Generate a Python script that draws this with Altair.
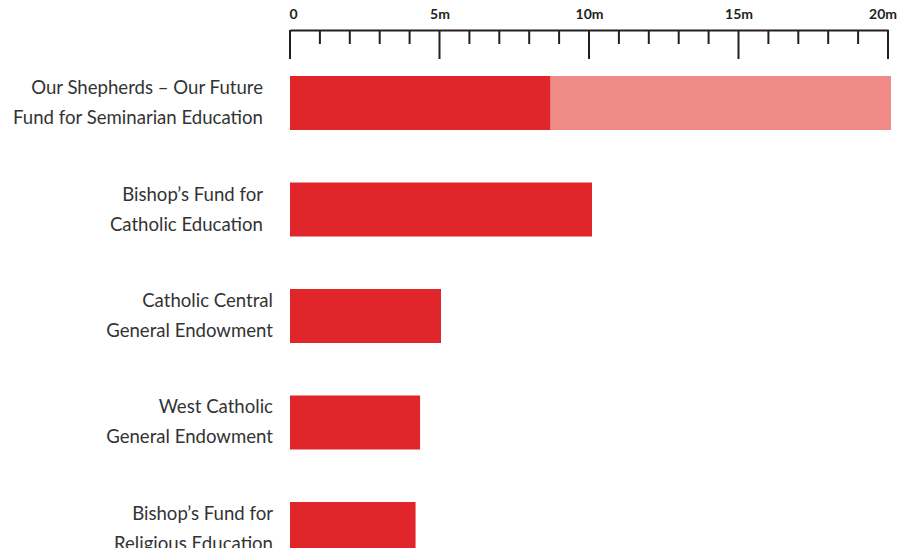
import altair as alt
import pandas as pd

categories = [
    "Our Shepherds – Our Future\nFund for Seminarian Education",
    "Bishop’s Fund for\nCatholic Education",
    "Catholic Central\nGeneral Endowment",
    "West Catholic\nGeneral Endowment",
    "Bishop’s Fund for\nReligious Education",
]
raised = [8.7, 10.1, 5.05, 4.35, 4.2]
goal = [20.1, None, None, None, None]
tick_values = list(range(0, 21))
major_values = [0, 5, 10, 15, 20]

RED = "#E0262A"
LIGHT = "#F08A86"
INK = "#231F20"
FONT = "Lato"

df = pd.DataFrame({"fund": categories, "raised": raised, "goal": goal})
ticks_df = pd.DataFrame({"v": [t for t in tick_values if t % 5 != 0]})
major_df = pd.DataFrame({"v": major_values})

yscale = alt.Scale(domain=categories, range=[0, 572], paddingInner=0.493, paddingOuter=0.432)
xscale = alt.Scale(domain=[0, 20], nice=False, zero=True)

xaxis = alt.Axis(
    orient="top", values=major_values, ticks=False, grid=False,
    domain=True, domainColor=INK, domainWidth=2,
    labelExpr="datum.value == 0 ? '0' : datum.value + 'm'",
    labelFont=FONT, labelFontSize=14, labelFontWeight="bold", labelColor=INK,
    labelPadding=9, labelFlush=False, title=None,
    labelOffset={"condition": [{"test": "datum.value == 0", "value": 3},
                               {"test": "datum.value == 20", "value": -5.5}],
                 "value": 0},
)

base = alt.Chart(df)

goal_bar = base.mark_bar(color=LIGHT, clip=False).encode(
    y=alt.Y("fund:N", scale=yscale, axis=None, sort=categories),
    x=alt.X("goal:Q", scale=xscale, axis=xaxis),
).transform_filter("isValid(datum.goal)")

raised_bar = base.mark_bar(color=RED, clip=False).encode(
    y=alt.Y("fund:N", scale=yscale, axis=None, sort=categories),
    x=alt.X("raised:Q", scale=xscale, axis=xaxis),
)

minor_ticks = alt.Chart(ticks_df).mark_rule(color=INK, strokeWidth=2).encode(
    x=alt.X("v:Q", scale=xscale, axis=xaxis),
    y=alt.value(0), y2=alt.value(14),
)
major_ticks = alt.Chart(major_df).mark_rule(color=INK, strokeWidth=2).encode(
    x=alt.X("v:Q", scale=xscale, axis=xaxis),
    y=alt.value(0), y2=alt.value(29),
)

text_kw = dict(align="right", baseline="middle", lineBreak="\n", lineHeight=30,
               font=FONT, fontSize=18.6, color="#333333", dy=-15)

labels_a = base.mark_text(dx=-27, **text_kw).encode(
    y=alt.Y("fund:N", scale=yscale, axis=None, sort=categories),
    x=alt.value(0),
    text="fund:N",
).transform_filter(alt.FieldOneOfPredicate(field="fund", oneOf=categories[:2]))

labels_b = base.mark_text(dx=-17, **text_kw).encode(
    y=alt.Y("fund:N", scale=yscale, axis=None, sort=categories),
    x=alt.value(0),
    text="fund:N",
).transform_filter(alt.FieldOneOfPredicate(field="fund", oneOf=categories[2:]))

chart = alt.layer(goal_bar, raised_bar, minor_ticks, major_ticks, labels_a, labels_b).properties(
    width=598, height=518,
    autosize=alt.AutoSizeParams(type="none"),
    padding={"left": 282, "top": 22, "right": 9, "bottom": 0},
).configure_view(stroke=None)

chart.save("out.html", embed_options={"renderer": "svg", "actions": False})
